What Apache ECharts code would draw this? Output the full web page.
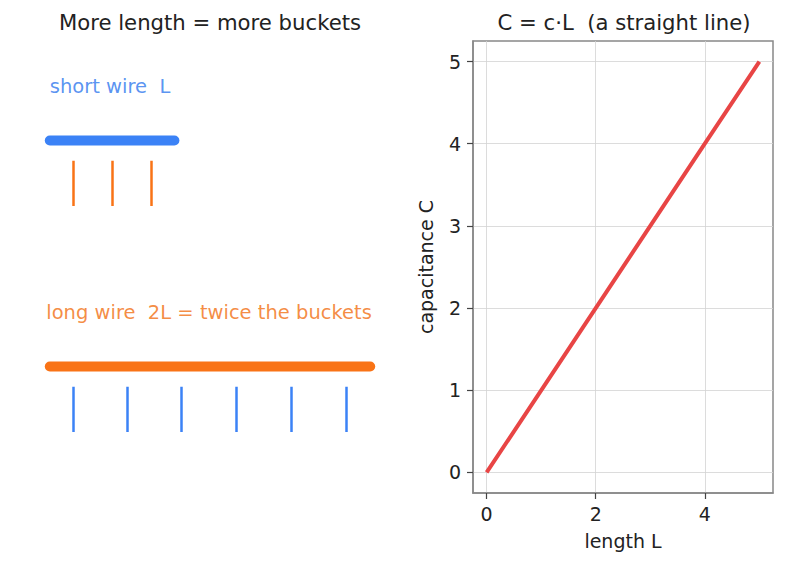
<!DOCTYPE html>
<html><head><meta charset="utf-8">
<script src="https://cdn.jsdelivr.net/npm/echarts@6/dist/echarts.min.js"></script>
<style>html,body{margin:0;padding:0;background:#fff}#c{width:787px;height:567px}</style>
</head><body><div id="c"></div>
<script>
// ---- data ----
const lengthL = [0, 1, 2, 3, 4, 5];
const capacitanceC = [0, 1, 2, 3, 4, 5];
const xTicks = [0, 2, 4];
const yTicks = [0, 1, 2, 3, 4, 5];

const shortWire = [0.5, 4.0];      // x extent of short wire
const longWire = [0.5, 9.5];       // x extent of long wire
const shortBuckets = [1.15, 2.25, 3.35];
const longBuckets = [1.15, 2.68, 4.2, 5.73, 7.27, 8.82];
const shortY = 7.8, longY = 2.8;
const bucketGapTop = 0.45, bucketLen = 1.0;
const shortLabel = 'short wire  L';
const longLabel = 'long wire  2L = twice the buckets';

const BLUE = '#3b82f6', ORANGE = '#f97316', RED = '#e84545';
const BLUE_TEXT = '#2f78ee', ORANGE_TEXT = '#f26f12';
const FONT = '"DejaVu Sans", sans-serif';

function bucketLines(xs, y) {
  return xs.map(x => ({coords: [[x, y - bucketGapTop], [x, y - bucketGapTop - bucketLen]]}));
}

const chart = echarts.init(document.getElementById('c'), null, {renderer: 'svg'});
chart.setOption({
  animation: false,
  textStyle: {fontFamily: FONT},
  title: [
    {text: 'More length = more buckets', left: 205, top: 7, textAlign: 'center',
     textStyle: {fontFamily: FONT, fontSize: 21.2, fontWeight: 'normal', color: '#222'}},
    {text: 'C = c·L  (a straight line)', left: 619, top: 7, textAlign: 'center',
     textStyle: {fontFamily: FONT, fontSize: 21.2, fontWeight: 'normal', color: '#222'}}
  ],
  grid: [
    {left: 32, width: 356, top: 41, height: 452, show: false},
    {left: 473, right: 14, top: 41, bottom: 74, show: true, borderColor: '#888', borderWidth: 1.5, backgroundColor: 'transparent'}
  ],
  xAxis: [
    {gridIndex: 0, type: 'value', min: 0, max: 10, show: false},
    {gridIndex: 1, type: 'value', min: -0.25, max: 5.25,
     name: 'length L', nameLocation: 'middle', nameGap: 38,
     nameTextStyle: {fontFamily: FONT, fontSize: 19, color: '#222'},
     axisLine: {show: true, onZero: false, lineStyle: {color: '#888', width: 1.5}},
     axisTick: {show: true, customValues: xTicks, length: 6, lineStyle: {color: '#444', width: 1.2}},
     axisLabel: {customValues: xTicks, fontFamily: FONT, fontSize: 19, color: '#222', margin: 11},
     splitLine: {show: true, lineStyle: {color: '#d3d3d3', width: 0.8}}}
  ],
  yAxis: [
    {gridIndex: 0, type: 'value', min: 0, max: 10, show: false},
    {gridIndex: 1, type: 'value', min: -0.25, max: 5.25,
     name: 'capacitance C', nameLocation: 'middle', nameGap: 38, nameRotate: 90,
     nameTextStyle: {fontFamily: FONT, fontSize: 19, color: '#222'},
     axisLine: {show: true, onZero: false, lineStyle: {color: '#888', width: 1.5}},
     axisTick: {show: true, customValues: yTicks, length: 6, lineStyle: {color: '#444', width: 1.2}},
     axisLabel: {customValues: yTicks, fontFamily: FONT, fontSize: 19, color: '#222', margin: 12},
     splitLine: {show: true, lineStyle: {color: '#d3d3d3', width: 0.8}}}
  ],
  series: [
    {type: 'line', xAxisIndex: 0, yAxisIndex: 0, symbol: 'none',
     data: shortWire.map(x => [x, shortY]),
     lineStyle: {color: BLUE, width: 10, cap: 'round'}},
    {type: 'line', xAxisIndex: 0, yAxisIndex: 0, symbol: 'none',
     data: longWire.map(x => [x, longY]),
     lineStyle: {color: ORANGE, width: 10, cap: 'round'}},
    {type: 'lines', coordinateSystem: 'cartesian2d', xAxisIndex: 0, yAxisIndex: 0,
     data: bucketLines(shortBuckets, shortY), lineStyle: {color: ORANGE, width: 2.5, opacity: 1}},
    {type: 'lines', coordinateSystem: 'cartesian2d', xAxisIndex: 0, yAxisIndex: 0,
     data: bucketLines(longBuckets, longY), lineStyle: {color: BLUE, width: 2.5, opacity: 1}},
    {type: 'scatter', xAxisIndex: 0, yAxisIndex: 0, symbolSize: 0,
     data: [{value: [0.5, 9.0], name: shortLabel, label: {color: BLUE_TEXT}},
            {value: [0.4, 4.0], name: longLabel, label: {color: ORANGE_TEXT}}],
     label: {show: true, position: 'right', distance: 0, formatter: p => p.name,
             fontFamily: FONT, fontSize: 19.5}},
    {type: 'line', xAxisIndex: 1, yAxisIndex: 1, symbol: 'none',
     data: lengthL.map((x, i) => [x, capacitanceC[i]]),
     lineStyle: {color: RED, width: 4}}
  ]
});
</script></body></html>
